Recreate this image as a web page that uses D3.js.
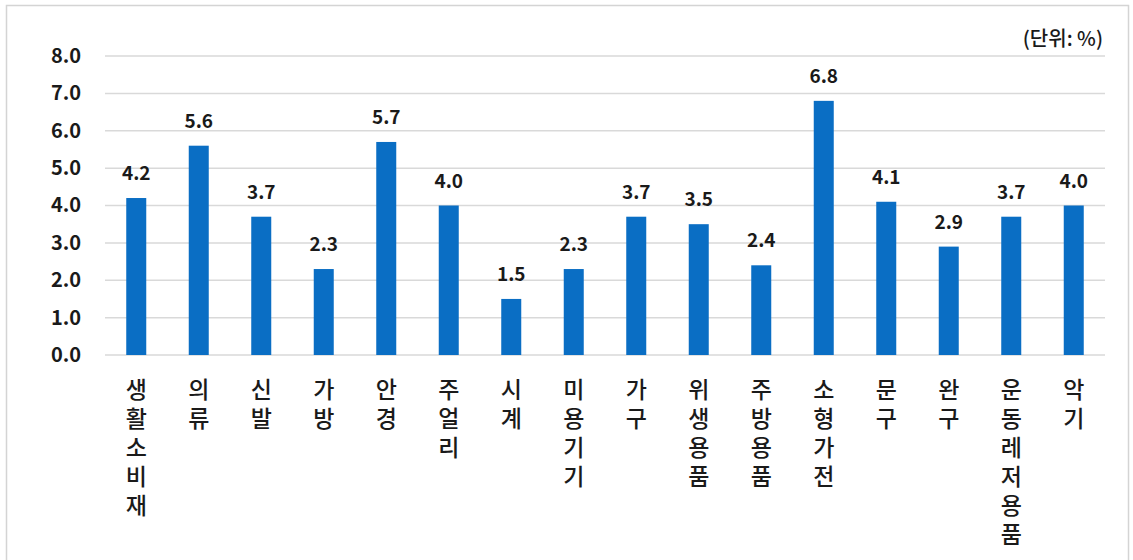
<!DOCTYPE html>
<html>
<head>
<meta charset="utf-8">
<script src="https://cdn.jsdelivr.net/npm/d3@7"></script>
<style>
  body { margin: 0; background: #fff; }
  text { font-family: "Noto Sans CJK KR", "Noto Sans", sans-serif; fill: #1a1a1a; }
  .cat { writing-mode: vertical-rl; text-orientation: upright; }
</style>
</head>
<body>
<svg id="chart"></svg>
<script>
// Data
const categories = ["생활소비재", "의류", "신발", "가방", "안경", "주얼리", "시계", "미용기기",
  "가구", "위생용품", "주방용품", "소형가전", "문구", "완구", "운동레저용품", "악기"];
const values = [4.2, 5.6, 3.7, 2.3, 5.7, 4.0, 1.5, 2.3, 3.7, 3.5, 2.4, 6.8, 4.1, 2.9, 3.7, 4.0];
const yTicks = [0, 1, 2, 3, 4, 5, 6, 7, 8];
const unitLabel = "(단위: %)";

const width = 1133, height = 560;
const margin = { top: 56, right: 28, bottom: 205, left: 105 };
const innerW = width - margin.left - margin.right;
const innerH = height - margin.top - margin.bottom;

const svg = d3.select("#chart").attr("width", width).attr("height", height);

// outer frame
svg.append("rect")
  .attr("x", 6.5).attr("y", 5.5)
  .attr("width", 1122).attr("height", 600)
  .attr("fill", "#fff").attr("stroke", "#d4d4d4").attr("stroke-width", 1.5);

const chart = svg.append("g").attr("transform", `translate(${margin.left},${margin.top})`);

const xScale = d3.scaleBand().domain(categories).range([0, innerW]).paddingInner(0.68).paddingOuter(0.34);
const yScale = d3.scaleLinear().domain([0, 8]).range([innerH, 0]);

// gridlines
chart.append("g")
  .selectAll("line")
  .data(yTicks)
  .join("line")
  .attr("x1", 0).attr("x2", innerW)
  .attr("y1", d => yScale(d)).attr("y2", d => yScale(d))
  .attr("stroke", "#d9d9d9").attr("stroke-width", 1.5);

// y axis labels
const yAxis = d3.axisLeft(yScale).tickValues(yTicks).tickFormat(d3.format(".1f")).tickSize(0).tickPadding(24);
const yAxisG = chart.append("g").call(yAxis);
yAxisG.select(".domain").remove();
yAxisG.selectAll("text")
  .attr("font-family", "'Noto Sans CJK KR', sans-serif")
  .attr("font-size", 20).attr("font-weight", 700).attr("fill", "#1a1a1a");

// bars
chart.selectAll(".bar")
  .data(values)
  .join("rect")
  .attr("class", "bar")
  .attr("x", (d, i) => xScale(categories[i]))
  .attr("y", d => yScale(d))
  .attr("width", xScale.bandwidth())
  .attr("height", d => innerH - yScale(d))
  .attr("fill", "#0a6ec4");

// value labels
chart.selectAll(".val")
  .data(values)
  .join("text")
  .attr("class", "val")
  .attr("x", (d, i) => xScale(categories[i]) + xScale.bandwidth() / 2)
  .attr("y", d => yScale(d) - 18)
  .attr("text-anchor", "middle")
  .attr("font-size", 19).attr("font-weight", 700)
  .text(d => d.toFixed(1));

// vertical category labels (upright stacked characters)
const catG = chart.append("g").attr("transform", `translate(0,${innerH})`);
catG.selectAll("text")
  .data(categories)
  .join("text")
  .attr("class", "cat")
  .attr("x", d => xScale(d) + xScale.bandwidth() / 2)
  .attr("y", 23)
  .attr("font-size", 23).attr("font-weight", 500)
  .attr("letter-spacing", 6)
  .text(d => d);

// unit label
svg.append("text")
  .attr("x", margin.left + innerW - 2).attr("y", 46)
  .attr("text-anchor", "end")
  .attr("font-size", 20).attr("font-weight", 500)
  .text(unitLabel);
</script>
</body>
</html>
